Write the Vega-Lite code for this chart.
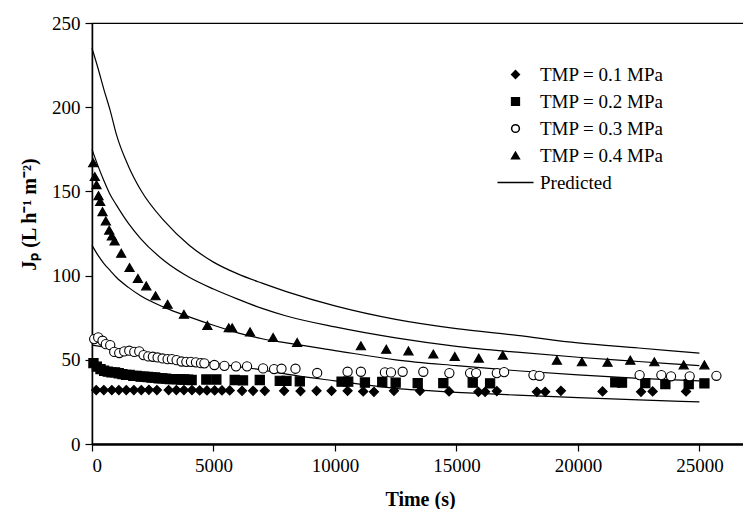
{
  "$schema": "https://vega.github.io/schema/vega-lite/v6.json",
  "width": 656,
  "height": 421,
  "autosize": {"type": "none"},
  "padding": {"left": 92, "top": 23, "right": 0, "bottom": 65},
  "background": "white",
  "config": {
    "font": "'Liberation Serif', 'Times New Roman', serif",
    "view": {"stroke": "black", "strokeWidth": 1.2},
    "axis": {
      "labelFont": "'Liberation Serif', 'Times New Roman', serif", "labelFontSize": 19, "labelColor": "black",
      "titleFont": "'Liberation Serif', 'Times New Roman', serif", "titleFontSize": 20, "titleFontWeight": "bold", "titleColor": "black",
      "grid": false, "domainColor": "black", "tickColor": "black", "tickSize": 7, "tickWidth": 1.2
    },
    "legend": {"labelFont": "'Liberation Serif', 'Times New Roman', serif", "labelFontSize": 19, "labelColor": "black"}
  },
  "datasets": {
    "pred": [
      {"c": 1, "t": 0, "J": 235}, {"c": 1, "t": 250, "J": 223}, {"c": 1, "t": 500, "J": 210}, {"c": 1, "t": 750, "J": 198}, {"c": 1, "t": 1000, "J": 184}, {"c": 1, "t": 1500, "J": 165}, {"c": 1, "t": 2000, "J": 151}, {"c": 1, "t": 3000, "J": 132}, {"c": 1, "t": 4000, "J": 118}, {"c": 1, "t": 5000, "J": 108}, {"c": 1, "t": 6000, "J": 101}, {"c": 1, "t": 7000, "J": 95.5}, {"c": 1, "t": 8000, "J": 90.5}, {"c": 1, "t": 10000, "J": 82}, {"c": 1, "t": 12500, "J": 74}, {"c": 1, "t": 15000, "J": 68.5}, {"c": 1, "t": 17500, "J": 64.5}, {"c": 1, "t": 20000, "J": 60}, {"c": 1, "t": 22500, "J": 57}, {"c": 1, "t": 25000, "J": 54},
      {"c": 2, "t": 0, "J": 175}, {"c": 2, "t": 250, "J": 165}, {"c": 2, "t": 500, "J": 156}, {"c": 2, "t": 750, "J": 148}, {"c": 2, "t": 1000, "J": 142}, {"c": 2, "t": 1500, "J": 131}, {"c": 2, "t": 2000, "J": 122}, {"c": 2, "t": 3000, "J": 108.5}, {"c": 2, "t": 4000, "J": 99}, {"c": 2, "t": 5000, "J": 92}, {"c": 2, "t": 6000, "J": 86}, {"c": 2, "t": 7000, "J": 80.5}, {"c": 2, "t": 8000, "J": 76}, {"c": 2, "t": 10000, "J": 69.5}, {"c": 2, "t": 12500, "J": 63}, {"c": 2, "t": 15000, "J": 58}, {"c": 2, "t": 17500, "J": 54.5}, {"c": 2, "t": 20000, "J": 51.5}, {"c": 2, "t": 22500, "J": 49}, {"c": 2, "t": 25000, "J": 46.5},
      {"c": 3, "t": 0, "J": 118}, {"c": 3, "t": 250, "J": 112}, {"c": 3, "t": 500, "J": 107}, {"c": 3, "t": 750, "J": 103}, {"c": 3, "t": 1000, "J": 99}, {"c": 3, "t": 1500, "J": 93}, {"c": 3, "t": 2000, "J": 88}, {"c": 3, "t": 3000, "J": 81}, {"c": 3, "t": 4000, "J": 75.5}, {"c": 3, "t": 5000, "J": 70.5}, {"c": 3, "t": 6000, "J": 66}, {"c": 3, "t": 7000, "J": 62.5}, {"c": 3, "t": 8000, "J": 60}, {"c": 3, "t": 10000, "J": 55.5}, {"c": 3, "t": 12500, "J": 50}, {"c": 3, "t": 15000, "J": 46.5}, {"c": 3, "t": 17500, "J": 43.5}, {"c": 3, "t": 20000, "J": 41}, {"c": 3, "t": 22500, "J": 39}, {"c": 3, "t": 25000, "J": 37.5},
      {"c": 4, "t": 0, "J": 58.7}, {"c": 4, "t": 1000, "J": 56.5}, {"c": 4, "t": 2000, "J": 54.3}, {"c": 4, "t": 3000, "J": 52}, {"c": 4, "t": 4000, "J": 50}, {"c": 4, "t": 5000, "J": 48}, {"c": 4, "t": 6000, "J": 46}, {"c": 4, "t": 7000, "J": 44}, {"c": 4, "t": 8000, "J": 41.5}, {"c": 4, "t": 10000, "J": 37.5}, {"c": 4, "t": 12500, "J": 33}, {"c": 4, "t": 15000, "J": 30.7}, {"c": 4, "t": 17500, "J": 29}, {"c": 4, "t": 20000, "J": 27.5}, {"c": 4, "t": 22500, "J": 26.2}, {"c": 4, "t": 25000, "J": 25}
    ],
    "pts": [
      {"s": "TMP = 0.1 MPa", "t": 173, "J": 32}, {"s": "TMP = 0.1 MPa", "t": 486, "J": 32}, {"s": "TMP = 0.1 MPa", "t": 816, "J": 32}, {"s": "TMP = 0.1 MPa", "t": 1105, "J": 32}, {"s": "TMP = 0.1 MPa", "t": 1410, "J": 32}, {"s": "TMP = 0.1 MPa", "t": 1723, "J": 32}, {"s": "TMP = 0.1 MPa", "t": 2028, "J": 32}, {"s": "TMP = 0.1 MPa", "t": 2341, "J": 32.2}, {"s": "TMP = 0.1 MPa", "t": 2671, "J": 32}, {"s": "TMP = 0.1 MPa", "t": 3153, "J": 32}, {"s": "TMP = 0.1 MPa", "t": 3471, "J": 32}, {"s": "TMP = 0.1 MPa", "t": 3784, "J": 32}, {"s": "TMP = 0.1 MPa", "t": 4114, "J": 32}, {"s": "TMP = 0.1 MPa", "t": 4431, "J": 31.8}, {"s": "TMP = 0.1 MPa", "t": 4732, "J": 31.8}, {"s": "TMP = 0.1 MPa", "t": 5049, "J": 31.8}, {"s": "TMP = 0.1 MPa", "t": 5350, "J": 31.8}, {"s": "TMP = 0.1 MPa", "t": 5668, "J": 31.8}, {"s": "TMP = 0.1 MPa", "t": 6175, "J": 31.6}, {"s": "TMP = 0.1 MPa", "t": 6628, "J": 31.6}, {"s": "TMP = 0.1 MPa", "t": 7111, "J": 31.6}, {"s": "TMP = 0.1 MPa", "t": 7906, "J": 31.6}, {"s": "TMP = 0.1 MPa", "t": 8582, "J": 31.4}, {"s": "TMP = 0.1 MPa", "t": 9242, "J": 31.6}, {"s": "TMP = 0.1 MPa", "t": 9860, "J": 31.6}, {"s": "TMP = 0.1 MPa", "t": 10519, "J": 31.6}, {"s": "TMP = 0.1 MPa", "t": 11163, "J": 31.2}, {"s": "TMP = 0.1 MPa", "t": 11604, "J": 31}, {"s": "TMP = 0.1 MPa", "t": 12428, "J": 31.6}, {"s": "TMP = 0.1 MPa", "t": 13500, "J": 31.6}, {"s": "TMP = 0.1 MPa", "t": 14695, "J": 31.2}, {"s": "TMP = 0.1 MPa", "t": 15903, "J": 31}, {"s": "TMP = 0.1 MPa", "t": 16179, "J": 31}, {"s": "TMP = 0.1 MPa", "t": 16661, "J": 31.4}, {"s": "TMP = 0.1 MPa", "t": 18310, "J": 31}, {"s": "TMP = 0.1 MPa", "t": 18652, "J": 31}, {"s": "TMP = 0.1 MPa", "t": 19299, "J": 31.6}, {"s": "TMP = 0.1 MPa", "t": 21014, "J": 31.2}, {"s": "TMP = 0.1 MPa", "t": 22597, "J": 31}, {"s": "TMP = 0.1 MPa", "t": 23075, "J": 31.2}, {"s": "TMP = 0.1 MPa", "t": 24451, "J": 31.2},
      {"s": "TMP = 0.2 MPa", "t": 60, "J": 48}, {"s": "TMP = 0.2 MPa", "t": 200, "J": 46}, {"s": "TMP = 0.2 MPa", "t": 350, "J": 44.5}, {"s": "TMP = 0.2 MPa", "t": 500, "J": 43.5}, {"s": "TMP = 0.2 MPa", "t": 650, "J": 43}, {"s": "TMP = 0.2 MPa", "t": 800, "J": 42.5}, {"s": "TMP = 0.2 MPa", "t": 950, "J": 42.5}, {"s": "TMP = 0.2 MPa", "t": 1100, "J": 42}, {"s": "TMP = 0.2 MPa", "t": 1250, "J": 41.5}, {"s": "TMP = 0.2 MPa", "t": 1400, "J": 41}, {"s": "TMP = 0.2 MPa", "t": 1550, "J": 41}, {"s": "TMP = 0.2 MPa", "t": 1700, "J": 40.5}, {"s": "TMP = 0.2 MPa", "t": 1850, "J": 40.5}, {"s": "TMP = 0.2 MPa", "t": 2000, "J": 40}, {"s": "TMP = 0.2 MPa", "t": 2150, "J": 40}, {"s": "TMP = 0.2 MPa", "t": 2300, "J": 39.8}, {"s": "TMP = 0.2 MPa", "t": 2450, "J": 39.5}, {"s": "TMP = 0.2 MPa", "t": 2600, "J": 39.5}, {"s": "TMP = 0.2 MPa", "t": 2750, "J": 39}, {"s": "TMP = 0.2 MPa", "t": 2900, "J": 39}, {"s": "TMP = 0.2 MPa", "t": 3050, "J": 38.8}, {"s": "TMP = 0.2 MPa", "t": 3200, "J": 38.5}, {"s": "TMP = 0.2 MPa", "t": 3350, "J": 38.5}, {"s": "TMP = 0.2 MPa", "t": 3500, "J": 38.5}, {"s": "TMP = 0.2 MPa", "t": 3650, "J": 38.3}, {"s": "TMP = 0.2 MPa", "t": 3800, "J": 38.3}, {"s": "TMP = 0.2 MPa", "t": 3950, "J": 38.2}, {"s": "TMP = 0.2 MPa", "t": 4100, "J": 38}, {"s": "TMP = 0.2 MPa", "t": 4707, "J": 38.3}, {"s": "TMP = 0.2 MPa", "t": 5118, "J": 38.3}, {"s": "TMP = 0.2 MPa", "t": 5874, "J": 38}, {"s": "TMP = 0.2 MPa", "t": 6216, "J": 37.8}, {"s": "TMP = 0.2 MPa", "t": 6905, "J": 38}, {"s": "TMP = 0.2 MPa", "t": 7729, "J": 37.5}, {"s": "TMP = 0.2 MPa", "t": 8004, "J": 37.5}, {"s": "TMP = 0.2 MPa", "t": 8553, "J": 37.2}, {"s": "TMP = 0.2 MPa", "t": 10272, "J": 37}, {"s": "TMP = 0.2 MPa", "t": 10546, "J": 37}, {"s": "TMP = 0.2 MPa", "t": 11233, "J": 36.5}, {"s": "TMP = 0.2 MPa", "t": 11946, "J": 36.8}, {"s": "TMP = 0.2 MPa", "t": 12498, "J": 36.4}, {"s": "TMP = 0.2 MPa", "t": 13405, "J": 36.2}, {"s": "TMP = 0.2 MPa", "t": 14460, "J": 36.2}, {"s": "TMP = 0.2 MPa", "t": 15670, "J": 36.4}, {"s": "TMP = 0.2 MPa", "t": 16385, "J": 36}, {"s": "TMP = 0.2 MPa", "t": 21538, "J": 36.6}, {"s": "TMP = 0.2 MPa", "t": 21814, "J": 36.4}, {"s": "TMP = 0.2 MPa", "t": 22774, "J": 36.2}, {"s": "TMP = 0.2 MPa", "t": 23599, "J": 35.6}, {"s": "TMP = 0.2 MPa", "t": 24559, "J": 35.6}, {"s": "TMP = 0.2 MPa", "t": 25206, "J": 36},
      {"s": "TMP = 0.3 MPa", "t": 90, "J": 62.3}, {"s": "TMP = 0.3 MPa", "t": 255, "J": 63.3}, {"s": "TMP = 0.3 MPa", "t": 433, "J": 61.3}, {"s": "TMP = 0.3 MPa", "t": 570, "J": 59.3}, {"s": "TMP = 0.3 MPa", "t": 750, "J": 58.7}, {"s": "TMP = 0.3 MPa", "t": 915, "J": 54.7}, {"s": "TMP = 0.3 MPa", "t": 1120, "J": 54}, {"s": "TMP = 0.3 MPa", "t": 1327, "J": 55}, {"s": "TMP = 0.3 MPa", "t": 1533, "J": 55.4}, {"s": "TMP = 0.3 MPa", "t": 1740, "J": 54.7}, {"s": "TMP = 0.3 MPa", "t": 1945, "J": 55}, {"s": "TMP = 0.3 MPa", "t": 2123, "J": 52.8}, {"s": "TMP = 0.3 MPa", "t": 2316, "J": 52}, {"s": "TMP = 0.3 MPa", "t": 2506, "J": 51.8}, {"s": "TMP = 0.3 MPa", "t": 2700, "J": 51.4}, {"s": "TMP = 0.3 MPa", "t": 2906, "J": 50.8}, {"s": "TMP = 0.3 MPa", "t": 3112, "J": 50.4}, {"s": "TMP = 0.3 MPa", "t": 3290, "J": 50.4}, {"s": "TMP = 0.3 MPa", "t": 3483, "J": 49.8}, {"s": "TMP = 0.3 MPa", "t": 3689, "J": 49}, {"s": "TMP = 0.3 MPa", "t": 3883, "J": 48.8}, {"s": "TMP = 0.3 MPa", "t": 4073, "J": 48.8}, {"s": "TMP = 0.3 MPa", "t": 4279, "J": 48.5}, {"s": "TMP = 0.3 MPa", "t": 4485, "J": 48}, {"s": "TMP = 0.3 MPa", "t": 4625, "J": 47.9}, {"s": "TMP = 0.3 MPa", "t": 5037, "J": 46.9}, {"s": "TMP = 0.3 MPa", "t": 5449, "J": 46.4}, {"s": "TMP = 0.3 MPa", "t": 5927, "J": 46.1}, {"s": "TMP = 0.3 MPa", "t": 6381, "J": 46.1}, {"s": "TMP = 0.3 MPa", "t": 7042, "J": 44.9}, {"s": "TMP = 0.3 MPa", "t": 7494, "J": 44.5}, {"s": "TMP = 0.3 MPa", "t": 7799, "J": 44.7}, {"s": "TMP = 0.3 MPa", "t": 8375, "J": 44.7}, {"s": "TMP = 0.3 MPa", "t": 9268, "J": 42.2}, {"s": "TMP = 0.3 MPa", "t": 10519, "J": 42.9}, {"s": "TMP = 0.3 MPa", "t": 11068, "J": 42.9}, {"s": "TMP = 0.3 MPa", "t": 12057, "J": 42.5}, {"s": "TMP = 0.3 MPa", "t": 12305, "J": 42.5}, {"s": "TMP = 0.3 MPa", "t": 12786, "J": 42.9}, {"s": "TMP = 0.3 MPa", "t": 13636, "J": 42.9}, {"s": "TMP = 0.3 MPa", "t": 14708, "J": 42.1}, {"s": "TMP = 0.3 MPa", "t": 15561, "J": 42.1}, {"s": "TMP = 0.3 MPa", "t": 15808, "J": 42.1}, {"s": "TMP = 0.3 MPa", "t": 16661, "J": 42.1}, {"s": "TMP = 0.3 MPa", "t": 16962, "J": 42.7}, {"s": "TMP = 0.3 MPa", "t": 18170, "J": 40.9}, {"s": "TMP = 0.3 MPa", "t": 18418, "J": 40.5}, {"s": "TMP = 0.3 MPa", "t": 22539, "J": 40.9}, {"s": "TMP = 0.3 MPa", "t": 23434, "J": 40.9}, {"s": "TMP = 0.3 MPa", "t": 23832, "J": 40.2}, {"s": "TMP = 0.3 MPa", "t": 24600, "J": 40.2}, {"s": "TMP = 0.3 MPa", "t": 25700, "J": 40.5},
      {"s": "TMP = 0.4 MPa", "t": 49, "J": 167}, {"s": "TMP = 0.4 MPa", "t": 115, "J": 158.8}, {"s": "TMP = 0.4 MPa", "t": 185, "J": 154}, {"s": "TMP = 0.4 MPa", "t": 268, "J": 147.5}, {"s": "TMP = 0.4 MPa", "t": 338, "J": 144}, {"s": "TMP = 0.4 MPa", "t": 433, "J": 138}, {"s": "TMP = 0.4 MPa", "t": 569, "J": 132.5}, {"s": "TMP = 0.4 MPa", "t": 709, "J": 127}, {"s": "TMP = 0.4 MPa", "t": 816, "J": 123.5}, {"s": "TMP = 0.4 MPa", "t": 930, "J": 120.6}, {"s": "TMP = 0.4 MPa", "t": 1203, "J": 113.3}, {"s": "TMP = 0.4 MPa", "t": 1546, "J": 104.8}, {"s": "TMP = 0.4 MPa", "t": 1888, "J": 98.3}, {"s": "TMP = 0.4 MPa", "t": 2234, "J": 93.9}, {"s": "TMP = 0.4 MPa", "t": 2617, "J": 88}, {"s": "TMP = 0.4 MPa", "t": 3112, "J": 83}, {"s": "TMP = 0.4 MPa", "t": 3784, "J": 77}, {"s": "TMP = 0.4 MPa", "t": 4748, "J": 70.4}, {"s": "TMP = 0.4 MPa", "t": 5630, "J": 69}, {"s": "TMP = 0.4 MPa", "t": 5770, "J": 69}, {"s": "TMP = 0.4 MPa", "t": 6506, "J": 66.6}, {"s": "TMP = 0.4 MPa", "t": 7453, "J": 63.3}, {"s": "TMP = 0.4 MPa", "t": 8443, "J": 60.3}, {"s": "TMP = 0.4 MPa", "t": 11068, "J": 58.3}, {"s": "TMP = 0.4 MPa", "t": 12110, "J": 56.3}, {"s": "TMP = 0.4 MPa", "t": 13025, "J": 55.3}, {"s": "TMP = 0.4 MPa", "t": 14049, "J": 53.4}, {"s": "TMP = 0.4 MPa", "t": 14930, "J": 52}, {"s": "TMP = 0.4 MPa", "t": 15919, "J": 51}, {"s": "TMP = 0.4 MPa", "t": 16909, "J": 52.8}, {"s": "TMP = 0.4 MPa", "t": 19135, "J": 49.8}, {"s": "TMP = 0.4 MPa", "t": 20165, "J": 48.8}, {"s": "TMP = 0.4 MPa", "t": 21220, "J": 48.5}, {"s": "TMP = 0.4 MPa", "t": 22156, "J": 49.8}, {"s": "TMP = 0.4 MPa", "t": 23145, "J": 48.8}, {"s": "TMP = 0.4 MPa", "t": 24353, "J": 47}, {"s": "TMP = 0.4 MPa", "t": 25206, "J": 47}
    ]
  },
  "layer": [
    {
      "data": {"name": "pred"},
      "mark": {"type": "line", "color": "black", "strokeWidth": 1.2, "interpolate": "monotone"},
      "encoding": {
        "x": {"field": "t", "type": "quantitative", "scale": {"domain": [0, 27000], "nice": false},
          "axis": {"values": [0, 5000, 10000, 15000, 20000, 25000], "format": "d", "title": "Time (s)", "domainWidth": 2.5, "labelPadding": 5, "titlePadding": 14}},
        "y": {"field": "J", "type": "quantitative", "scale": {"domain": [0, 250], "nice": false},
          "axis": {"values": [0, 50, 100, 150, 200, 250], "title": "Jₚ (L h⁻¹ m⁻²)", "domainWidth": 1.5, "labelPadding": 5, "titleX": -63, "titleY": 191, "titleAlign": "center", "titleBaseline": "middle", "titleAngle": -90}},
        "detail": {"field": "c", "type": "nominal"}
      }
    },
    {
      "data": {"name": "pts"},
      "mark": {"type": "point", "filled": true, "stroke": "black", "strokeWidth": 1.1, "size": 85, "opacity": 1, "fillOpacity": 1, "strokeOpacity": 1},
      "encoding": {
        "x": {"field": "t", "type": "quantitative"},
        "y": {"field": "J", "type": "quantitative"},
        "shape": {"field": "s", "type": "nominal",
          "scale": {"domain": ["TMP = 0.1 MPa", "TMP = 0.2 MPa", "TMP = 0.3 MPa", "TMP = 0.4 MPa", "Predicted"],
                    "range": ["diamond", "square", "circle", "triangle-up", "M-4.65,0H4.65"]},
          "legend": {"orient": "none", "legendX": 414, "legendY": 42, "title": null, "symbolSize": 60, "labelOffset": 15, "rowPadding": 7, "padding": 0,
            "encode": {"symbols": {"update": {"stroke": {"value": "black"}, "strokeWidth": {"value": 1.2}, "strokeOpacity": {"value": 1}, "opacity": {"value": 1}}}}}},
        "fill": {"field": "s", "type": "nominal",
          "scale": {"domain": ["TMP = 0.1 MPa", "TMP = 0.2 MPa", "TMP = 0.3 MPa", "TMP = 0.4 MPa", "Predicted"],
                    "range": ["black", "black", "white", "black", "black"]},
          "legend": {"orient": "none", "legendX": 414, "legendY": 42, "title": null, "symbolSize": 60, "labelOffset": 15, "rowPadding": 7, "padding": 0,
            "encode": {"symbols": {"update": {"stroke": {"value": "black"}, "strokeWidth": {"value": 1.2}, "strokeOpacity": {"value": 1}, "opacity": {"value": 1}}}}}}
      }
    }
  ]
}
